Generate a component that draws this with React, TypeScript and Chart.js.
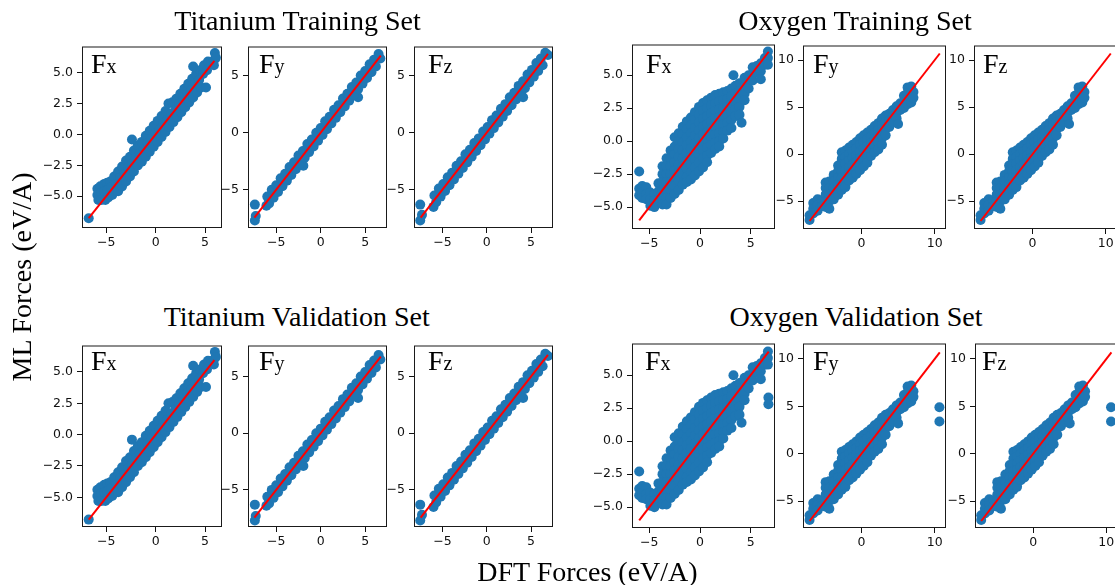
import React, { useEffect, useRef } from "react";
import { Chart, registerables } from "chart.js";
Chart.register(...registerables);
Chart.defaults.font.family = "DejaVu Sans";
Chart.defaults.font.size = 12.5;

type Pt = [number, number];
type Col = [number, number[]];

// ---------------- Data (DFT force, ML force) ----------------
const tiFxPoints: Pt[] = [
  [-6.78, -6.78],
  [-5.9, -4.4], [-5.9, -4.9], [-5.8, -5.3], [-5.6, -4.2], [-5.5, -4.7], [-5.5, -5.3], [-5.2, -4.0], [-5.2, -4.6],
  [-5.1, -5.3], [-4.9, -3.9], [-4.9, -4.5], [-4.8, -5.1], [-4.6, -3.8], [-4.5, -4.3], [-4.4, -4.9],
  [-4.2, -3.4], [-3.8, -3.0], [-3.4, -2.6], [-3.0, -2.1], [-2.6, -1.8], [-2.2, -1.3], [-1.8, -0.9], [-1.4, -0.6],
  [-1.0, -0.1], [-0.6, 0.3], [-0.2, 0.7], [0.2, 1.1], [0.6, 1.5], [1.0, 1.9], [1.3, 2.5], [1.7, 2.6], [2.1, 2.9],
  [2.5, 3.3], [2.9, 3.7], [3.3, 4.1], [3.7, 4.5], [4.1, 4.9], [4.5, 5.2], [4.9, 5.6], [5.3, 5.9],
  [-4.0, -4.0], [-3.6, -3.5], [-3.2, -3.2], [-2.8, -2.7], [-2.4, -2.4], [-2.0, -1.9], [-1.6, -1.5], [-1.2, -1.2],
  [-0.8, -0.7], [-0.4, -0.3], [0.0, 0.1], [0.4, 0.4], [0.8, 0.9], [1.2, 1.2], [1.6, 1.7], [2.0, 2.0], [2.4, 2.5],
  [2.8, 2.8], [3.2, 3.3], [3.6, 3.6], [4.0, 4.1], [4.4, 4.4], [4.8, 4.9], [5.2, 5.2], [5.6, 5.7], [5.9, 6.0],
  [-3.8, -4.6], [-3.4, -4.2], [-3.0, -3.8], [-2.6, -3.4], [-2.2, -3.0], [-1.8, -2.5], [-1.4, -2.2], [-1.0, -1.8],
  [-0.6, -1.4], [-0.2, -1.0], [0.2, -0.6], [0.6, -0.2], [1.0, 0.2], [1.4, 0.6], [1.8, 1.0], [2.2, 1.4], [2.6, 1.8],
  [3.0, 2.2], [3.4, 2.6], [3.8, 3.0], [4.2, 3.4], [4.6, 3.8], [5.1, 3.8],
  [-2.4, -0.4], [3.8, 5.5], [6.0, 6.6], [6.1, 6.2], [5.9, 5.6],
];

const tiFyPoints: Pt[] = [
  [-7.4, -6.3], [-7.4, -7.7], [-7.3, -7.3], [-6.1, -6.4], [-1.95, -2.9], [4.2, 3.1],
  [-6.0, -5.6], [-5.5, -5.0], [-5.0, -4.6], [-4.5, -4.0], [-4.0, -3.6], [-3.5, -3.0], [-3.0, -2.6], [-2.5, -2.0],
  [-2.0, -1.6], [-1.5, -1.0], [-1.0, -0.6], [-0.5, 0.0], [0.0, 0.4], [0.5, 1.0], [1.0, 1.4], [1.5, 2.0], [2.0, 2.4],
  [2.5, 3.0], [3.0, 3.4], [3.5, 4.0], [4.0, 4.4], [4.5, 5.0], [5.0, 5.4], [5.5, 6.0], [6.0, 6.4], [6.5, 6.9],
  [-5.8, -6.2], [-5.3, -5.7], [-4.8, -5.2], [-4.3, -4.7], [-3.8, -4.2], [-3.3, -3.7], [-2.8, -3.2], [-2.3, -2.7],
  [-1.8, -2.2], [-1.3, -1.7], [-0.8, -1.2], [-0.3, -0.7], [0.2, -0.2], [0.7, 0.3], [1.2, 0.8], [1.7, 1.3],
  [2.2, 1.8], [2.7, 2.3], [3.2, 2.8], [3.7, 3.3], [4.2, 3.8], [4.7, 4.3], [5.2, 4.8], [5.7, 5.3], [6.2, 5.8],
  [6.7, 6.5],
];

const tiFzPoints: Pt[] = [
  [-7.5, -6.3], [-7.5, -7.7], [-7.3, -7.2], [-6.0, -6.5], [4.1, 3.1],
  [-5.9, -5.5], [-5.4, -4.9], [-4.9, -4.5], [-4.4, -3.9], [-3.9, -3.5], [-3.4, -2.9], [-2.9, -2.5], [-2.4, -1.9],
  [-1.9, -1.5], [-1.4, -0.9], [-0.9, -0.5], [-0.4, 0.1], [0.1, 0.5], [0.6, 1.1], [1.1, 1.5], [1.6, 2.1], [2.1, 2.5],
  [2.6, 3.1], [3.1, 3.5], [3.6, 4.1], [4.1, 4.5], [4.6, 5.1], [5.1, 5.5], [5.6, 6.1], [6.1, 6.5], [6.6, 7.0],
  [-5.7, -6.1], [-5.2, -5.6], [-4.7, -5.1], [-4.2, -4.6], [-3.7, -4.1], [-3.2, -3.6], [-2.7, -3.1], [-2.2, -2.6],
  [-1.7, -2.1], [-1.2, -1.6], [-0.7, -1.1], [-0.2, -0.6], [0.3, -0.1], [0.8, 0.4], [1.3, 0.9], [1.8, 1.4],
  [2.3, 1.9], [2.8, 2.4], [3.3, 2.9], [3.8, 3.4], [4.3, 3.9], [4.8, 4.4], [5.3, 4.9], [5.8, 5.4], [6.3, 5.9],
  [6.9, 6.8],
];

// Oxygen clouds: columns of [DFT value, ML values]
const oFxCols: Col[] = [
  [-6.0, [-2.3, -3.6, -4.1]],
  [-5.7, [-3.4, -3.9, -4.3]],
  [-5.3, [-3.5, -4.0, -4.4]],
  [-4.9, [-3.9, -4.4, -4.9]],
  [-4.5, [-4.0, -4.5, -5.0]],
  [-4.1, [-3.2, -3.8, -4.4]],
  [-3.7, [-1.9, -2.5, -3.1, -3.7, -4.3, -4.8]],
  [-3.3, [-1.3, -1.9, -2.5, -3.1, -3.7, -4.3, -4.8]],
  [-2.9, [-0.7, -1.3, -1.9, -2.5, -3.1, -3.7, -4.3]],
  [-2.5, [0.3, -0.4, -1.0, -1.6, -2.2, -2.8, -3.4, -4.0]],
  [-2.1, [0.6, 0.0, -0.6, -1.2, -1.8, -2.4, -3.0, -3.7]],
  [-1.7, [1.1, 0.5, -0.1, -0.7, -1.3, -1.9, -2.5, -3.3]],
  [-1.3, [1.5, 0.9, 0.3, -0.3, -0.9, -1.5, -2.1, -2.7, -3.1]],
  [-0.9, [1.8, 1.2, 0.6, 0.0, -0.6, -1.2, -1.8, -2.4, -2.9]],
  [-0.5, [2.2, 1.6, 1.0, 0.4, -0.2, -0.8, -1.4, -2.0, -2.6]],
  [-0.1, [2.6, 2.0, 1.4, 0.8, 0.2, -0.4, -1.0, -1.6, -2.3]],
  [0.3, [2.9, 2.3, 1.7, 1.1, 0.5, -0.1, -0.7, -1.3, -2.0]],
  [0.7, [3.1, 2.5, 1.9, 1.3, 0.7, 0.1, -0.5, -1.1, -1.6]],
  [1.1, [3.3, 2.7, 2.1, 1.5, 0.9, 0.3, -0.3, -0.9]],
  [1.5, [3.5, 2.9, 2.3, 1.7, 1.1, 0.5, -0.1, -0.6]],
  [1.9, [3.6, 3.0, 2.4, 1.8, 1.2, 0.6, 0.0, -0.4]],
  [2.3, [3.7, 3.1, 2.5, 1.9, 1.3, 0.7, 0.2]],
  [2.7, [3.8, 3.2, 2.6, 2.0, 1.4, 0.8]],
  [3.1, [4.0, 3.4, 2.8, 2.2, 1.6, 1.0]],
  [3.3, [5.0]],
  [3.5, [4.2, 3.6, 3.0, 2.4, 1.9]],
  [3.9, [4.4, 3.8, 3.2, 2.6, 2.0]],
  [4.1, [1.4]],
  [4.4, [4.8, 4.2, 3.6, 3.1]],
  [4.8, [5.0, 4.5, 4.0]],
  [5.2, [5.6, 5.1, 4.6]],
  [5.6, [5.7, 5.2]],
  [6.0, [5.9, 5.3, 4.7]],
  [6.4, [6.3, 5.8]],
  [6.7, [6.8, 6.3, 5.8]],
];
const oFxValExtra: Pt[] = [[6.75, 3.3], [6.75, 2.8]];

const oFyCols: Col[] = [
  [-7.1, [-7.0, -6.5]],
  [-6.6, [-5.2, -5.8, -6.3]],
  [-6.0, [-4.8, -5.4, -6.0]],
  [-5.4, [-4.9, -5.5]],
  [-4.9, [-3.0, -3.6, -4.3, -5.0, -5.6]],
  [-4.4, [-2.9, -3.6, -4.3, -5.0, -5.8]],
  [-3.8, [-2.2, -2.9, -3.6, -4.3, -4.8]],
  [-3.2, [-1.2, -1.8, -2.5, -3.2, -3.9, -4.3]],
  [-2.7, [0.2, -0.5, -1.1, -1.8, -2.5, -3.2, -3.8]],
  [-2.2, [0.4, -0.3, -1.0, -1.7, -2.4, -3.1, -3.5]],
  [-1.7, [0.7, 0.0, -0.7, -1.4, -2.1, -2.8]],
  [-1.2, [1.0, 0.3, -0.4, -1.1, -1.8, -2.5]],
  [-0.7, [1.3, 0.6, -0.1, -0.8, -1.5, -2.1]],
  [-0.2, [1.7, 1.0, 0.3, -0.4, -1.1, -1.7]],
  [0.3, [2.0, 1.3, 0.6, -0.1, -0.8, -1.3]],
  [0.8, [2.3, 1.6, 0.9, 0.2, -0.5, -0.9]],
  [1.3, [2.6, 1.9, 1.2, 0.5, -0.2]],
  [1.8, [3.0, 2.3, 1.6, 0.9, 0.2]],
  [2.3, [3.3, 2.6, 1.9, 1.2, 0.5]],
  [2.8, [3.8, 3.1, 2.4, 1.7, 1.0]],
  [3.3, [4.1, 3.4, 2.7, 2.0]],
  [3.8, [4.3, 3.6, 2.9]],
  [4.3, [4.7, 4.0, 3.4]],
  [4.8, [5.1, 4.4, 3.8]],
  [5.0, [3.2]],
  [5.3, [5.4, 4.7]],
  [5.8, [6.2, 5.5, 4.9]],
  [6.3, [7.1, 6.5, 5.8, 5.3]],
  [6.8, [7.2, 6.6, 6.0, 5.5]],
  [7.1, [6.6, 6.0]],
];
const oFzCols: Col[] = oFyCols;
const oFyzValExtra: Pt[] = [[10.65, 4.9], [10.65, 3.4]];

// y = x reference lines (DFT min to DFT max)
const tiFxLine: Pt[] = [[-6.78, -6.78], [5.95, 5.95]];
const tiFyLine: Pt[] = [[-7.45, -7.45], [6.75, 6.75]];
const tiFzLine: Pt[] = [[-7.45, -7.45], [6.9, 6.9]];
const oFxLine: Pt[] = [[-6.0, -6.0], [6.78, 6.78]];
const oFyzLine: Pt[] = [[-7.1, -7.1], [10.7, 10.7]];

// ticks
const ticksPm5 = [-5, 0, 5];
const ticksPm5Labels = ["\u22125", "0", "5"];
const ticksFx = [-5, -2.5, 0, 2.5, 5];
const ticksFxLabels = ["\u22125.0", "\u22122.5", "0.0", "2.5", "5.0"];
const ticksO10x = [0, 10];
const ticksO10xLabels = ["0", "10"];
const ticksO10y = [-5, 0, 5, 10];
const ticksO10yLabels = ["\u22125", "0", "5", "10"];

const titles = ["Titanium Training Set", "Oxygen Training Set", "Titanium Validation Set", "Oxygen Validation Set"];
const xTitle = "DFT Forces (eV/A)";
const yTitle = "ML Forces (eV/A)";
const compLabels = [["F", "x"], ["F", "y"], ["F", "z"]];

function cols(c: Col[]): Pt[] {
  return c.flatMap(([x, ys]) => ys.map((y) => [x, y] as Pt));
}

// ---------------- Layout ----------------
type PanelCfg = {
  box: [number, number, number, number]; // left, top, right, bottom
  xr: [number, number];
  yr: [number, number];
  xt: number[]; xl: string[];
  yt: number[]; yl: string[];
  pts: Pt[];
  line: Pt[];
  lab: [number, number];
  comp: number;
};

const tiXt = ticksPm5, tiXl = ticksPm5Labels;
const panels: PanelCfg[] = [
  { box: [82, 43, 222, 228], xr: [-7.46, 6.72], yr: [-7.57, 7.12], xt: tiXt, xl: tiXl, yt: ticksFx, yl: ticksFxLabels, pts: tiFxPoints, line: tiFxLine, lab: [91, 73], comp: 0 },
  { box: [248, 43, 387, 228], xr: [-8.17, 7.45], yr: [-8.35, 7.55], xt: tiXt, xl: tiXl, yt: ticksPm5, yl: ticksPm5Labels, pts: tiFyPoints, line: tiFyLine, lab: [259, 73], comp: 1 },
  { box: [414, 43, 553, 228], xr: [-8.2, 7.47], yr: [-8.35, 7.55], xt: tiXt, xl: tiXl, yt: ticksPm5, yl: ticksPm5Labels, pts: tiFzPoints, line: tiFzLine, lab: [428, 73], comp: 2 },
  { box: [632, 41, 775, 229], xr: [-6.71, 7.4], yr: [-6.66, 7.33], xt: ticksPm5, xl: ticksPm5Labels, yt: ticksFx, yl: ticksFxLabels, pts: cols(oFxCols), line: oFxLine, lab: [646, 73], comp: 0 },
  { box: [803, 42, 946, 229], xr: [-8.0, 11.55], yr: [-7.95, 11.55], xt: ticksO10x, xl: ticksO10xLabels, yt: ticksO10y, yl: ticksO10yLabels, pts: cols(oFyCols), line: oFyzLine, lab: [813, 73], comp: 1 },
  { box: [974, 42, 1117, 229], xr: [-8.0, 11.55], yr: [-7.95, 11.55], xt: ticksO10x, xl: ticksO10xLabels, yt: ticksO10y, yl: ticksO10yLabels, pts: cols(oFzCols), line: oFyzLine, lab: [983, 73], comp: 2 },
  { box: [82, 342, 222, 527], xr: [-7.46, 6.72], yr: [-7.37, 7.11], xt: tiXt, xl: tiXl, yt: ticksFx, yl: ticksFxLabels, pts: tiFxPoints, line: tiFxLine, lab: [91, 370], comp: 0 },
  { box: [248, 342, 387, 527], xr: [-8.17, 7.45], yr: [-8.27, 7.73], xt: tiXt, xl: tiXl, yt: ticksPm5, yl: ticksPm5Labels, pts: tiFyPoints, line: tiFyLine, lab: [259, 370], comp: 1 },
  { box: [414, 342, 553, 527], xr: [-8.2, 7.47], yr: [-8.27, 7.73], xt: tiXt, xl: tiXl, yt: ticksPm5, yl: ticksPm5Labels, pts: tiFzPoints, line: tiFzLine, lab: [428, 370], comp: 2 },
  { box: [632, 340, 775, 528], xr: [-6.71, 7.4], yr: [-6.58, 7.4], xt: ticksPm5, xl: ticksPm5Labels, yt: ticksFx, yl: ticksFxLabels, pts: [...cols(oFxCols), ...oFxValExtra], line: oFxLine, lab: [645, 370], comp: 0 },
  { box: [803, 340, 946, 528], xr: [-8.0, 11.55], yr: [-7.84, 11.63], xt: ticksO10x, xl: ticksO10xLabels, yt: ticksO10y, yl: ticksO10yLabels, pts: [...cols(oFyCols), ...oFyzValExtra], line: oFyzLine, lab: [813, 370], comp: 1 },
  { box: [975, 340, 1118, 528], xr: [-7.95, 11.6], yr: [-7.84, 11.63], xt: ticksO10x, xl: ticksO10xLabels, yt: ticksO10y, yl: ticksO10yLabels, pts: [...cols(oFzCols), ...oFyzValExtra], line: oFyzLine, lab: [982, 370], comp: 2 },
];

const YW = 58, XH = 26, PT = 8, PR = 8;
const TICK_FONT = { family: "DejaVu Sans", size: 12.5 };
const INK = "#111";
const SERIF = "'Liberation Serif', 'Times New Roman', serif";
const BASE28 = 23.45; // baseline offset inside a 28px line box

const framePlugin = {
  id: "frame",
  afterDatasetsDraw(chart: any) {
    const { ctx, chartArea: a } = chart;
    ctx.save();
    ctx.strokeStyle = "#1a1a1a";
    ctx.lineWidth = 1;
    ctx.strokeRect(a.left + 0.5, a.top + 0.5, a.right - a.left - 1, a.bottom - a.top - 1);
    ctx.restore();
  },
};

function Panel({ p }: { p: PanelCfg }) {
  const ref = useRef<HTMLCanvasElement>(null);
  const [l, t, r, b] = p.box;
  const w = YW + (r - l) + PR;
  const h = PT + (b - t) + XH;
  useEffect(() => {
    const axisCommon = (vals: number[], labels: string[], pad: number) => ({
      type: "linear" as const,
      afterBuildTicks: (s: any) => { s.ticks = vals.map((v) => ({ value: v })); },
      ticks: {
        autoSkip: false, maxRotation: 0, minRotation: 0, color: INK, font: TICK_FONT,
        padding: pad,
        callback: (_v: any, i: number) => labels[i],
      },
      grid: { display: true, drawOnChartArea: false, drawTicks: true, tickLength: 5, color: INK, lineWidth: 1 },
      border: { display: false },
    });
    const chart = new Chart(ref.current!, {
      type: "scatter",
      data: {
        datasets: [
          {
            type: "line",
            data: p.line.map(([x, y]) => ({ x, y })),
            borderColor: "#ff0000", borderWidth: 2, pointRadius: 0, fill: false, order: 0, clip: 0,
          } as any,
          {
            type: "scatter",
            data: p.pts.map(([x, y]) => ({ x, y })),
            pointRadius: 5, pointHoverRadius: 5, backgroundColor: "#1f77b4", borderWidth: 0, order: 1, clip: 0,
          } as any,
        ],
      },
      options: {
        animation: false, responsive: false, events: [],
        font: TICK_FONT,
        layout: { padding: { left: 0, top: PT, right: PR, bottom: 0 } },
        plugins: { legend: { display: false }, tooltip: { enabled: false }, title: { display: false } },
        scales: {
          x: { ...axisCommon(p.xt, p.xl, 2), min: p.xr[0], max: p.xr[1], afterFit: (s: any) => { s.height = XH; } },
          y: { ...axisCommon(p.yt, p.yl, 4), min: p.yr[0], max: p.yr[1], afterFit: (s: any) => { s.width = YW; } },
        },
      } as any,
      plugins: [framePlugin],
    });
    return () => chart.destroy();
  }, []);
  return (
    <>
      <canvas ref={ref} width={w} height={h}
        style={{ position: "absolute", left: l - YW, top: t - PT, width: w, height: h }} />
      <div style={{ position: "absolute", left: p.lab[0], top: p.lab[1] - BASE28, font: `28px ${SERIF}`, lineHeight: "28px", color: "#000", whiteSpace: "nowrap" }}>
        {compLabels[p.comp][0]}<span style={{ fontSize: 20 }}>{compLabels[p.comp][1]}</span>
      </div>
    </>
  );
}

function Title({ text, cx, base }: { text: string; cx: number; base: number }) {
  return (
    <div style={{ position: "absolute", left: cx - 200, width: 400, top: base - BASE28, textAlign: "center", font: `28px ${SERIF}`, lineHeight: "28px", color: "#000", whiteSpace: "nowrap" }}>
      {text}
    </div>
  );
}

export default function App() {
  return (
    <div style={{ position: "fixed", left: 0, top: 0, width: 1115, height: 585, overflow: "hidden", background: "#fff" }}>
      {panels.map((p, i) => <Panel key={i} p={p} />)}
      <Title text={titles[0]} cx={297.5} base={30} />
      <Title text={titles[1]} cx={855} base={30} />
      <Title text={titles[2]} cx={296.7} base={326} />
      <Title text={titles[3]} cx={856} base={326} />
      <Title text={xTitle} cx={587.5} base={581} />
      <div style={{ position: "absolute", left: 21.5 - 150, top: 277 - 14, width: 300, height: 28, textAlign: "center", font: `28px ${SERIF}`, lineHeight: "28px", color: "#000", whiteSpace: "nowrap", transform: "rotate(-90deg)", transformOrigin: "50% 50%" }}>
        {yTitle}
      </div>
    </div>
  );
}
